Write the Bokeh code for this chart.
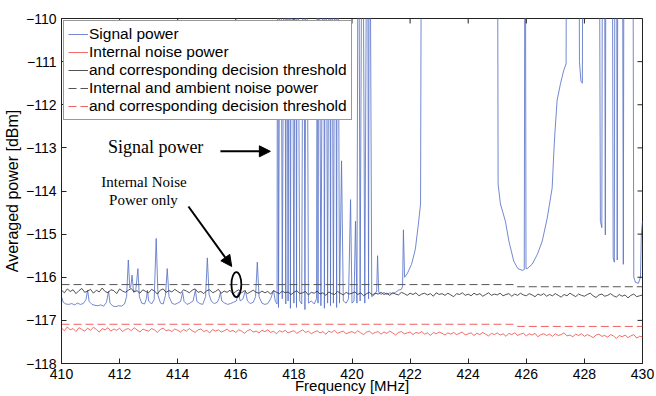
import numpy as np
from bokeh.plotting import figure
from bokeh.models import (Range1d, FixedTicker, Legend, LegendItem,
                          Arrow, NormalHead, Label)
from bokeh.embed import file_html
from bokeh.resources import INLINE

# ---------------- data ----------------
noise_freq = np.linspace(410, 430, 201)

black_noise = [
    -116.30, -116.36, -116.27, -116.33, -116.29, -116.38, -116.31, -116.26, -116.35, -116.32,
    -116.28, -116.37, -116.30, -116.34, -116.25, -116.33, -116.36, -116.29, -116.31, -116.38,
    -116.27, -116.32, -116.35, -116.30, -116.26, -116.34, -116.31, -116.37, -116.29, -116.33,
    -116.36, -116.28, -116.32, -116.39, -116.30, -116.27, -116.35, -116.31, -116.34, -116.28,
    -116.33, -116.37, -116.29, -116.32, -116.36, -116.30, -116.27, -116.35, -116.33, -116.38,
    -116.31, -116.29, -116.36, -116.33, -116.28, -116.37, -116.32, -116.35, -116.30, -116.39,
    -116.33, -116.29, -116.36, -116.31, -116.38, -116.34, -116.30, -116.35, -116.37, -116.32,
    -116.36, -116.33, -116.39, -116.31, -116.35, -116.38, -116.32, -116.36, -116.34, -116.40,
    -116.35, -116.31, -116.38, -116.36, -116.33, -116.41, -116.35, -116.37, -116.32, -116.39,
    -116.36, -116.42, -116.34, -116.38, -116.40, -116.33, -116.37, -116.41, -116.35, -116.39,
    -116.37, -116.34, -116.40, -116.36, -116.43, -116.38, -116.35, -116.41, -116.37, -116.39,
    -116.35, -116.40, -116.37, -116.42, -116.36, -116.39, -116.41, -116.35, -116.38, -116.42,
    -116.37, -116.40, -116.36, -116.43, -116.39, -116.37, -116.41, -116.38, -116.44, -116.36,
    -116.40, -116.38, -116.42, -116.37, -116.41, -116.45, -116.38, -116.40, -116.36, -116.42,
    -116.39, -116.43, -116.37, -116.41, -116.38, -116.44, -116.40, -116.36, -116.42, -116.39,
    -116.41, -116.37, -116.43, -116.40, -116.38, -116.44, -116.39, -116.42, -116.37, -116.41,
    -116.43, -116.38, -116.41, -116.45, -116.39, -116.42, -116.38, -116.44, -116.40, -116.43,
    -116.38, -116.42, -116.46, -116.40, -116.43, -116.37, -116.41, -116.45, -116.39, -116.42,
    -116.44, -116.40, -116.37, -116.43, -116.47, -116.41, -116.39, -116.44, -116.42, -116.38,
    -116.43, -116.46, -116.40, -116.44, -116.41, -116.48, -116.42, -116.39, -116.45, -116.43,
    -116.41,
]

red_noise = [
    -117.18, -117.24, -117.15, -117.22, -117.19, -117.26, -117.17, -117.21, -117.25, -117.18,
    -117.23, -117.16, -117.21, -117.27, -117.19, -117.22, -117.17, -117.25, -117.20, -117.23,
    -117.18, -117.26, -117.21, -117.19, -117.24, -117.17, -117.22, -117.27, -117.20, -117.23,
    -117.25, -117.19, -117.22, -117.28, -117.21, -117.18, -117.24, -117.22, -117.26, -117.20,
    -117.23, -117.27, -117.21, -117.25, -117.19, -117.24, -117.28, -117.22, -117.20, -117.26,
    -117.23, -117.29, -117.21, -117.25, -117.22, -117.27, -117.24, -117.20, -117.26, -117.23,
    -117.28, -117.22, -117.25, -117.30, -117.24, -117.21, -117.27, -117.25, -117.29, -117.23,
    -117.26, -117.22, -117.28, -117.25, -117.31, -117.24, -117.27, -117.23, -117.29, -117.26,
    -117.24, -117.30, -117.26, -117.22, -117.28, -117.25, -117.31, -117.27, -117.24, -117.29,
    -117.26, -117.32, -117.25, -117.28, -117.23, -117.30, -117.27, -117.25, -117.31, -117.28,
    -117.26, -117.30, -117.24, -117.29, -117.33, -117.27, -117.25, -117.31, -117.28, -117.26,
    -117.32, -117.27, -117.30, -117.25, -117.29, -117.34, -117.28, -117.26, -117.31, -117.29,
    -117.27, -117.33, -117.28, -117.30, -117.26, -117.32, -117.29, -117.35, -117.28, -117.31,
    -117.27, -117.30, -117.34, -117.29, -117.32, -117.28, -117.33, -117.30, -117.27, -117.34,
    -117.31, -117.29, -117.35, -117.30, -117.33, -117.28, -117.32, -117.36, -117.30, -117.33,
    -117.29, -117.34, -117.31, -117.37, -117.30, -117.33, -117.29, -117.35, -117.32, -117.30,
    -117.36, -117.31, -117.34, -117.30, -117.38, -117.33, -117.31, -117.35, -117.32, -117.37,
    -117.31, -117.35, -117.33, -117.29, -117.36, -117.34, -117.38, -117.32, -117.35, -117.31,
    -117.37, -117.33, -117.36, -117.40, -117.34, -117.32, -117.37, -117.35, -117.39, -117.33,
    -117.36, -117.42, -117.35, -117.38, -117.34, -117.40, -117.36, -117.33, -117.41, -117.37,
    -117.38,
]

threshold_freq = [410.0, 425.6, 425.7, 430.0]
ambient_threshold = [-116.17, -116.17, -116.22, -116.22]
internal_threshold = [-117.09, -117.09, -117.14, -117.14]

# signal power: (frequency MHz, dBm); -104 means far above the visible range
signal_points = [
    (410.00, -116.45), (410.06, -116.58), (410.15, -116.62), (410.25, -116.63), (410.35, -116.61),
    (410.45, -116.64), (410.55, -116.60), (410.65, -116.63), (410.75, -116.61), (410.84, -116.52),
    (410.90, -116.30), (410.95, -116.56), (411.05, -116.63), (411.15, -116.65), (411.25, -116.66),
    (411.35, -116.64), (411.45, -116.67), (411.55, -116.58), (411.62, -116.32), (411.67, -116.60),
    (411.77, -116.67), (411.87, -116.68), (411.97, -116.66), (412.07, -116.67), (412.17, -116.62),
    (412.24, -116.45), (412.30, -115.60), (412.35, -116.25), (412.39, -116.20), (412.43, -115.95),
    (412.48, -116.35), (412.56, -116.28), (412.63, -115.80), (412.68, -116.45), (412.76, -116.60),
    (412.86, -116.62), (412.92, -116.50), (412.96, -116.30), (413.00, -116.55), (413.10, -116.62),
    (413.19, -116.52), (413.26, -115.10), (413.32, -116.42), (413.41, -116.60), (413.50, -116.62),
    (413.58, -116.42), (413.64, -115.80), (413.70, -116.45), (413.80, -116.60), (413.90, -116.63),
    (414.00, -116.60), (414.10, -116.56), (414.17, -116.35), (414.22, -116.56), (414.32, -116.63),
    (414.42, -116.60), (414.53, -116.55), (414.61, -116.30), (414.66, -116.56), (414.76, -116.61),
    (414.86, -116.63), (414.96, -116.45), (415.02, -115.55), (415.08, -116.40), (415.16, -116.56),
    (415.26, -116.61), (415.36, -116.58), (415.42, -116.50), (415.47, -116.35), (415.52, -116.55),
    (415.62, -116.60), (415.72, -116.63), (415.82, -116.61), (415.92, -116.58), (416.02, -116.55),
    (416.09, -116.35), (416.15, -116.55), (416.25, -116.50), (416.33, -116.30), (416.40, -116.55),
    (416.50, -116.61), (416.60, -116.58), (416.68, -116.45), (416.74, -115.65), (416.80, -116.45),
    (416.90, -116.60), (417.00, -116.63), (417.10, -116.61), (417.20, -116.50), (417.30, -116.30),
    (417.36, -116.56), (417.42, -116.62), (417.44, -104.0), (417.47, -116.70), (417.54, -104.0),
    (417.60, -116.50), (417.68, -104.0), (417.72, -116.62), (417.75, -104.0), (417.80, -116.55),
    (417.85, -104.0), (417.88, -116.72), (417.92, -104.0), (418.00, -116.60), (418.06, -104.0),
    (418.09, -116.70), (418.12, -104.0), (418.20, -116.55), (418.27, -116.62), (418.33, -104.0),
    (418.38, -116.75), (418.43, -104.0), (418.50, -116.60), (418.60, -116.55), (418.70, -116.62),
    (418.78, -116.50), (418.81, -104.0), (418.83, -116.60), (418.85, -104.0), (418.93, -116.66),
    (419.02, -104.0), (419.05, -116.72), (419.09, -104.0), (419.16, -116.60), (419.23, -104.0),
    (419.26, -116.66), (419.29, -104.0), (419.36, -116.60), (419.43, -104.0), (419.47, -116.70),
    (419.50, -104.0), (419.57, -116.60), (419.64, -113.30), (419.70, -116.55), (419.80, -116.60),
    (419.88, -116.50), (419.95, -114.20), (420.00, -116.60), (420.07, -116.55), (420.12, -114.70),
    (420.17, -116.60), (420.22, -104.0), (420.28, -116.55), (420.36, -104.0), (420.44, -116.60),
    (420.53, -104.0), (420.57, -116.50), (420.60, -104.0), (420.68, -116.45), (420.78, -116.40),
    (420.85, -116.32), (420.88, -115.50), (420.92, -116.35), (421.00, -116.40), (421.10, -116.35),
    (421.20, -116.40), (421.30, -116.36), (421.40, -116.38), (421.50, -116.35), (421.60, -116.30),
    (421.70, -116.28), (421.74, -116.22), (421.77, -114.90), (421.81, -116.00), (421.90, -115.92),
    (422.05, -115.70), (422.18, -115.35), (422.28, -114.80), (422.36, -114.30), (422.40, -104.0),
    (425.00, -104.0), (425.03, -113.84), (425.11, -114.30), (425.28, -114.70), (425.40, -115.16),
    (425.57, -115.63), (425.71, -115.80), (425.86, -115.84), (425.93, -115.82), (425.96, -104.0),
    (425.99, -115.80), (426.03, -115.80), (426.20, -115.70), (426.38, -115.47), (426.55, -115.16),
    (426.72, -114.63), (426.89, -113.93), (426.95, -113.07), (426.98, -112.70), (427.06, -111.90),
    (427.18, -111.50), (427.29, -111.20), (427.37, -111.05), (427.40, -104.0), (427.80, -104.0),
    (427.83, -111.00), (427.88, -111.45), (427.93, -111.50), (427.96, -104.0), (428.50, -104.0),
    (428.55, -114.70), (428.60, -114.85), (428.63, -104.0), (428.68, -104.0), (428.72, -115.02),
    (428.75, -104.0), (428.95, -104.0), (428.99, -115.55), (429.03, -115.65), (429.06, -104.0),
    (429.10, -104.0), (429.13, -115.60), (429.16, -104.0), (429.30, -104.0), (429.34, -115.70),
    (429.37, -104.0), (429.66, -104.0), (429.70, -116.00), (429.76, -116.12), (429.86, -116.14),
    (429.93, -116.00), (429.96, -115.00), (430.00, -114.70),
]
signal_freq = [f for f, _ in signal_points]
signal_dbm = [v for _, v in signal_points]

x_ticks = list(range(410, 431, 2))
y_ticks = list(range(-118, -109, 1))

legend_labels = ["Signal power", "Internal noise power",
                 "and corresponding decision threshold",
                 "Internal and ambient noise power",
                 "and corresponding decision threshold"]

# annotation placement (data coordinates)
sig_text = (413.24, -112.97)
sig_arrow = (415.47, -113.08, 417.19, -113.08)
noise_text1 = (412.84, -113.80)
noise_text2 = (412.82, -114.22)
noise_arrow = (414.37, -114.36, 415.86, -115.75)
noise_ellipse = (416.02, -116.17, 0.34, 0.58)

# ---------------- figure ----------------
FONT = "Liberation Sans"
X0, X1, Y0, Y1 = 410, 430, -118, -110
p = figure(width=656, height=396, x_range=Range1d(X0, X1), y_range=Range1d(Y0, Y1),
           output_backend="svg", toolbar_location=None,
           min_border_left=61, min_border_right=14, min_border_top=18, min_border_bottom=33)
p.xgrid.visible = False
p.ygrid.visible = False
p.outline_line_color = "#222222"
p.outline_line_width = 1
p.background_fill_color = "white"
p.border_fill_color = "white"

r_sig = p.line(signal_freq, signal_dbm, line_color="#5a74c8", line_width=0.85)
r_red = p.line(noise_freq, red_noise, line_color="#f25050", line_width=0.85)
r_blk = p.line(noise_freq, black_noise, line_color="#333333", line_width=0.85)
r_amb = p.line(threshold_freq, ambient_threshold, line_color="#555555", line_width=1,
               line_dash="8 4")
r_int = p.line(threshold_freq, internal_threshold, line_color="#f06060", line_width=1,
               line_dash="8 4")

# inward ticks on the right and top edges (half of each dash is clipped by the frame)
p.scatter(x=[X1] * len(y_ticks), y=y_ticks, marker="dash", size=10,
          line_color="#222222", line_width=1)
p.scatter(x=x_ticks, y=[Y1] * len(x_ticks), marker="dash", angle=np.pi / 2, size=10,
          line_color="#222222", line_width=1)

for ax in (p.xaxis[0], p.yaxis[0]):
    ax.major_tick_in = 5
    ax.major_tick_out = 0
    ax.minor_tick_in = 0
    ax.minor_tick_out = 0
    ax.axis_line_color = "#222222"
    ax.major_tick_line_color = "#222222"
    ax.major_label_text_font = FONT
    ax.major_label_text_font_size = "14px"
    ax.major_label_text_color = "black"
    ax.axis_label_text_font = FONT
    ax.axis_label_text_font_style = "normal"
    ax.axis_label_text_color = "black"

p.xaxis[0].ticker = FixedTicker(ticks=x_ticks)
p.yaxis[0].ticker = FixedTicker(ticks=y_ticks)
p.xaxis[0].axis_label = "Frequency [MHz]"
p.xaxis[0].axis_label_text_font_size = "15px"
p.xaxis[0].major_label_standoff = 5
p.xaxis[0].axis_label_standoff = -5
p.yaxis[0].axis_label = "Averaged power [dBm]"
p.yaxis[0].axis_label_text_font_size = "16px"
p.yaxis[0].major_label_standoff = 5
p.yaxis[0].axis_label_standoff = 2

legend = Legend(items=[LegendItem(label=legend_labels[0], renderers=[r_sig]),
                       LegendItem(label=legend_labels[1], renderers=[r_red]),
                       LegendItem(label=legend_labels[2], renderers=[r_blk]),
                       LegendItem(label=legend_labels[3], renderers=[r_amb]),
                       LegendItem(label=legend_labels[4], renderers=[r_int])],
                location="top_left", margin=2, padding=4, spacing=0,
                label_height=18, glyph_height=18, glyph_width=20, label_standoff=1,
                label_text_font=FONT, label_text_font_size="15.5px",
                label_text_color="black", border_line_color="#333333",
                background_fill_color="white", background_fill_alpha=1.0)
p.add_layout(legend)

p.add_layout(Label(x=sig_text[0], y=sig_text[1], text="Signal power",
                   text_font="Liberation Serif", text_font_size="18px",
                   text_align="center", text_baseline="middle", text_color="black"))
p.add_layout(Arrow(end=NormalHead(size=11, fill_color="black", line_color="black"),
                   x_start=sig_arrow[0], y_start=sig_arrow[1],
                   x_end=sig_arrow[2], y_end=sig_arrow[3],
                   line_color="black", line_width=2))
p.add_layout(Label(x=noise_text1[0], y=noise_text1[1], text="Internal Noise",
                   text_font="Liberation Serif", text_font_size="15px",
                   text_align="center", text_baseline="middle", text_color="black"))
p.add_layout(Label(x=noise_text2[0], y=noise_text2[1], text="Power only",
                   text_font="Liberation Serif", text_font_size="15px",
                   text_align="center", text_baseline="middle", text_color="black"))
p.add_layout(Arrow(end=NormalHead(size=11, fill_color="black", line_color="black"),
                   x_start=noise_arrow[0], y_start=noise_arrow[1],
                   x_end=noise_arrow[2], y_end=noise_arrow[3],
                   line_color="black", line_width=2))
p.ellipse(x=[noise_ellipse[0]], y=[noise_ellipse[1]], width=noise_ellipse[2],
          height=noise_ellipse[3], fill_color=None, line_color="black", line_width=1.8)

open("out.html", "w").write(file_html(p, INLINE))
